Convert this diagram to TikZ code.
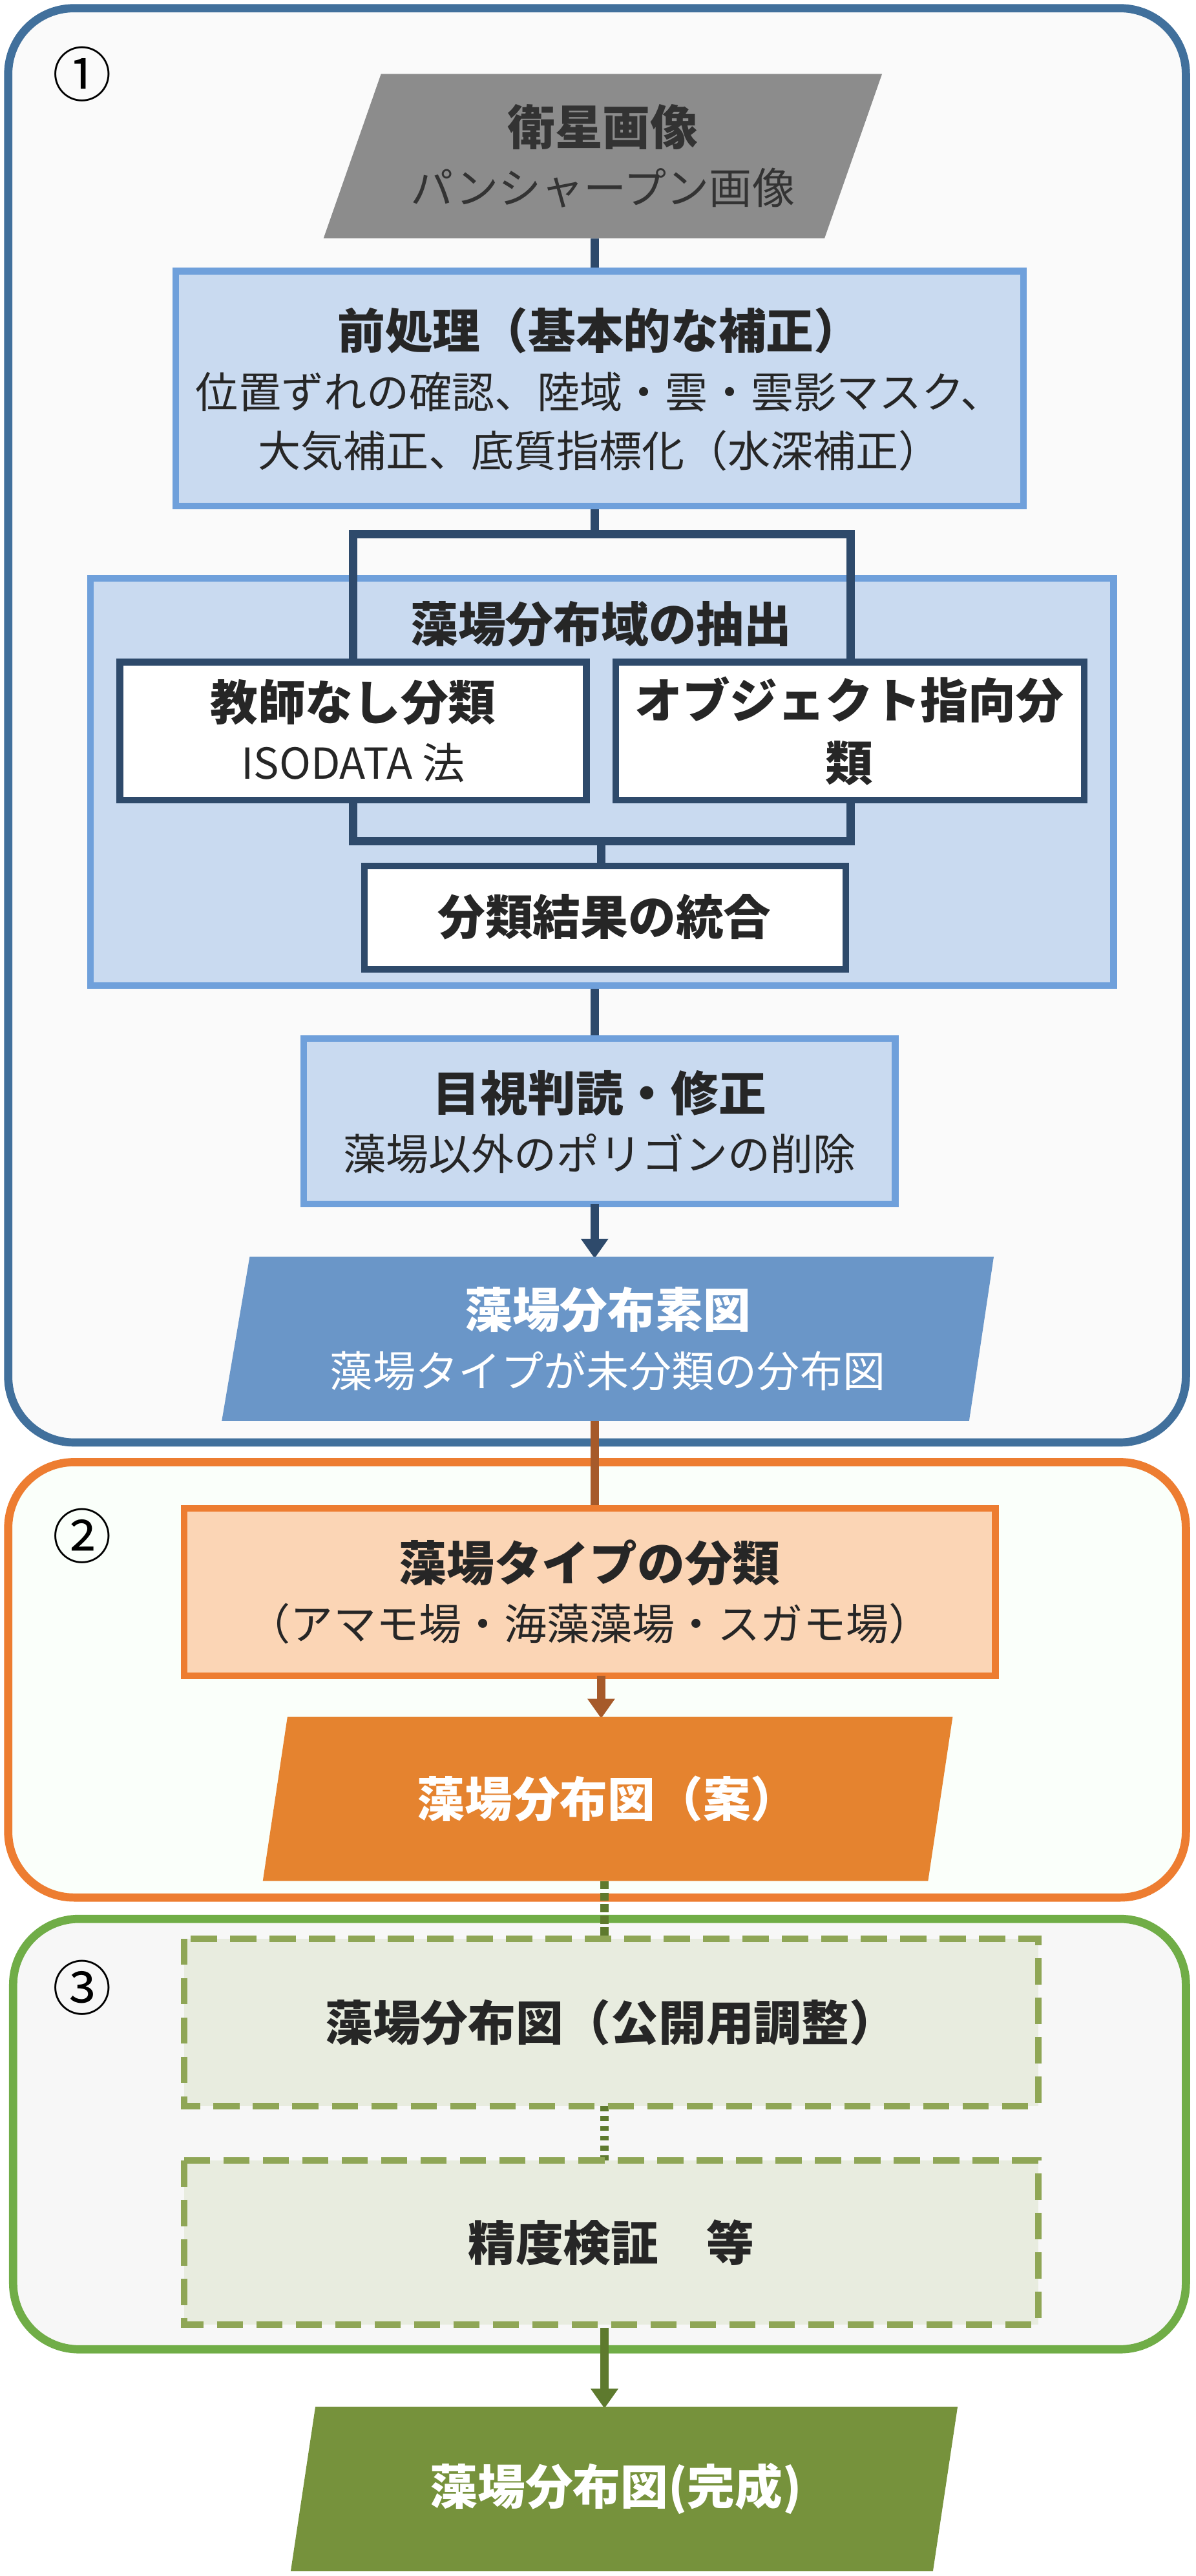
\documentclass[tikz,border=0pt]{standalone}
\usetikzlibrary{arrows.meta}
\usepackage{fontspec}
\setmainfont{Noto Sans CJK JP}
\begin{document}
\begin{tikzpicture}[x=1pt,y=-1pt,
  txt/.style={align=center,text=black!85,font=\fontsize{26}{36}\selectfont},
  bf/.style={font=\fontsize{29}{38}\selectfont\bfseries}]
\useasboundingbox (0,0) rectangle (728,1568);
\definecolor{bluebd}{HTML}{41709C}\definecolor{lblue}{HTML}{C9DAF0}\definecolor{mblue}{HTML}{6FA0DB}
\definecolor{dkb}{HTML}{2E4A6B}\definecolor{orbd}{HTML}{ED7D31}\definecolor{lor}{HTML}{FBD5B5}
\definecolor{grbd}{HTML}{70AD47}\definecolor{lgr}{HTML}{E8ECDF}\definecolor{olv}{HTML}{8FA656}
\definecolor{brn}{HTML}{A65A2A}\definecolor{dol}{HTML}{5E7A2E}
\definecolor{pblue}{HTML}{6A96C8}\definecolor{pgreen}{HTML}{76923C}\definecolor{porange}{HTML}{E5832F}
% section frames
\draw[bluebd,line width=5pt,fill=black!2,rounded corners=40pt] (5,5) rectangle (722,878);
\draw[orbd,line width=5pt,fill=green!2!white,rounded corners=40pt] (5,890) rectangle (722,1155);
\draw[grbd,line width=5pt,fill=black!3,rounded corners=40pt] (8,1168) rectangle (722,1430);
\node[font=\fontsize{36}{36}\selectfont] (n1) at (50,45) {①};
\node[font=\fontsize{36}{36}\selectfont] (n2) at (50,935) {②};
\node[font=\fontsize{36}{36}\selectfont] (n3) at (50,1210) {③};
% connectors (behind)
\coordinate (fT) at (362,325);
\draw[dkb,line width=5pt] (362,145) -- (fT);
\draw[dkb,line width=5pt] (362,590) -- (362,632);
\draw[brn,line width=5pt] (362,865) -- (362,918);
\draw[dol,line width=5pt,dotted] (368,1145) -- (368,1180);
\draw[dol,line width=5pt,dashed] (368,1282) -- (368,1315);
% satellite
\fill[black!45] (232,45) -- (537,45) -- (502,145) -- (197,145) -- cycle;
\node[txt,text=black!80] (sat) at (367,95) {{\bfseries\fontsize{29}{38}\selectfont 衛星画像}\\パンシャープン画像};
% preprocessing
\draw[mblue,line width=4pt,fill=lblue] (107,165) rectangle (623,308);
\node[txt] (pre) at (365,237) {{\bfseries\fontsize{29}{38}\selectfont 前処理（基本的な補正）}\\位置ずれの確認、陸域・雲・雲影マスク、\\大気補正、底質指標化（水深補正）};
% extraction
\draw[mblue,line width=4pt,fill=lblue] (55,352) rectangle (678,600);
\draw[dkb,line width=5pt] (215,325) rectangle (518,512);
\node[txt,bf] (ext) at (366,380) {藻場分布域の抽出};
\draw[dkb,line width=4pt,fill=white] (73,403) rectangle (357,487);
\node[txt] (uns) at (215,445) {{\bfseries\fontsize{29}{38}\selectfont 教師なし分類}\\ISODATA 法};
\draw[dkb,line width=4pt,fill=white] (375,403) rectangle (660,487);
\node[txt,bf,text width=270pt] (obj) at (517,445) {オブジェクト指向分\\類};
\draw[dkb,line width=5pt] (366,512) -- (366,527);
\draw[dkb,line width=4pt,fill=white] (222,527) rectangle (515,590);
\node[txt,bf] (int) at (368,558) {分類結果の統合};
% visual
\draw[mblue,line width=4pt,fill=lblue] (185,632) rectangle (545,733);
\node[txt] (vis) at (365,683) {{\bfseries\fontsize{29}{38}\selectfont 目視判読・修正}\\藻場以外のポリゴンの削除};
\draw[dkb,line width=5pt,-{Triangle[length=12pt,width=16pt]}] (362,733) -- (362,766);
\fill[pblue] (152,765) -- (605,765) -- (590,865) -- (135,865) -- cycle;
\node[txt,text=white] (raw) at (370,815) {{\bfseries\fontsize{29}{38}\selectfont 藻場分布素図}\\藻場タイプが未分類の分布図};
% section 2
\draw[orbd,line width=4pt,fill=lor] (112,918) rectangle (606,1020);
\node[txt] (typ) at (359,969) {{\bfseries\fontsize{29}{38}\selectfont 藻場タイプの分類}\\（アマモ場・海藻藻場・スガモ場）};
\draw[brn,line width=5pt,-{Triangle[length=12pt,width=16pt]}] (366,1020) -- (366,1046);
\fill[porange] (175,1045) -- (580,1045) -- (565,1145) -- (160,1145) -- cycle;
\node[txt,bf,text=white] (dr) at (370,1095) {藻場分布図（案）};
% section 3
\draw[olv,line width=4pt,dash pattern=on 16pt off 8pt,fill=lgr] (112,1180) rectangle (632,1282);
\node[txt,bf] (pub) at (372,1231) {藻場分布図（公開用調整）};
\draw[olv,line width=4pt,dash pattern=on 16pt off 8pt,fill=lgr] (112,1315) rectangle (632,1415);
\node[txt,bf] (acc) at (372,1365) {精度検証\quad 等};
\draw[dol,line width=5pt,-{Triangle[length=12pt,width=16pt]}] (368,1417) -- (368,1466);
\fill[pgreen] (192,1465) -- (583,1465) -- (568,1565) -- (177,1565) -- cycle;
\node[txt,bf,text=white] (fin) at (375,1515) {藻場分布図(完成)};
\end{tikzpicture}
\end{document}
